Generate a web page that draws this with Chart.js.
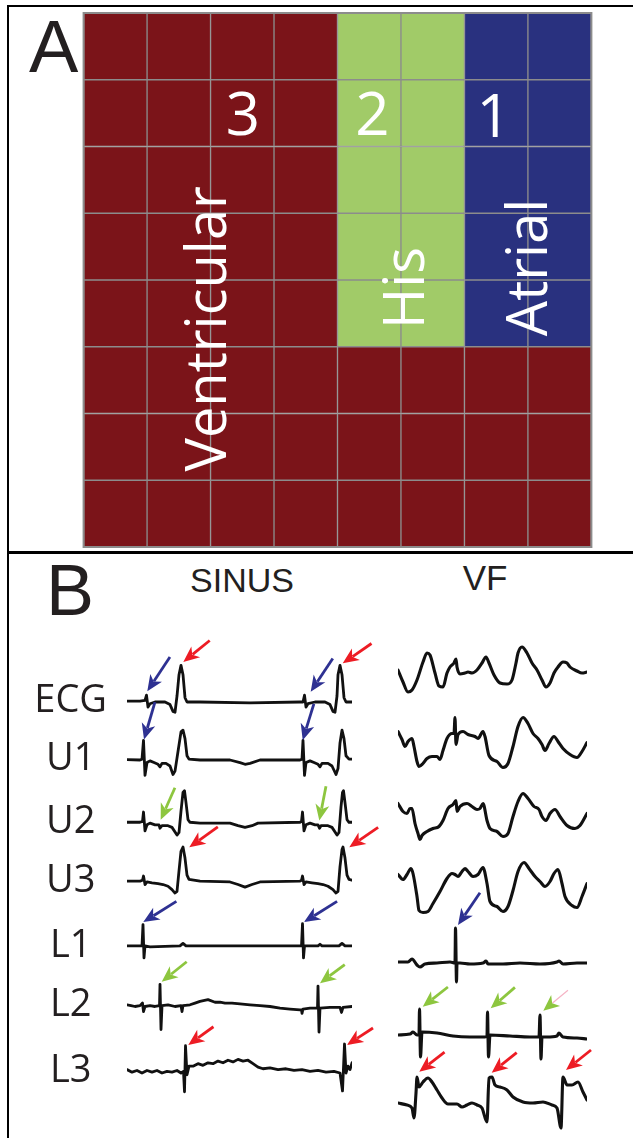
<!DOCTYPE html>
<html>
<head>
<meta charset="utf-8">
<script src="https://cdn.jsdelivr.net/npm/chart.js@4.4.1/dist/chart.umd.min.js"></script>
<style>
  body { margin: 0; background: #fff; }
  #page { position: relative; width: 633px; height: 1138px; overflow: hidden;
          font-family: "Liberation Sans", Arial, sans-serif; color: #231f20; }
  .frame { position: absolute; left: 7px; top: 5px; right: 0; bottom: 0;
           border-left: 2px solid #000; border-top: 2px solid #000; }
  .sep { position: absolute; left: 7px; right: 0; top: 551px; height: 3px; background: #000; }
  .txt { position: absolute; line-height: 1; white-space: nowrap; }
  canvas { position: absolute; }
</style>
</head>
<body>
<div id="page">
  <div class="frame"></div>
  <div class="sep"></div>
  <canvas id="gridChart" width="633" height="551" style="left:0;top:0"></canvas>
  <div class="txt" style="left:29px;top:10px;font-size:74px">A</div>

  <div class="txt" style="left:46px;top:554px;font-size:72px">B</div>
  <div class="txt" style="left:142px;width:200px;text-align:center;top:563px;font-size:34px">SINUS</div>
  <div class="txt" style="left:385px;width:200px;text-align:center;top:560px;font-size:35px">VF</div>
  <canvas id="sinusChart" width="371" height="582" style="left:9px;top:556px"></canvas>
  <canvas id="vfChart" width="253" height="582" style="left:380px;top:556px"></canvas>
</div>
<script>
/* ===== PANEL A: electrode grid ===== */
const gridColumns = ["1", "2", "3", "4", "5", "6", "7", "8"];
// one string per grid row, one letter per column: V = ventricular, H = His, A = atrial
const regionMap = [
  "VVVVHHAA",
  "VVVVHHAA",
  "VVVVHHAA",
  "VVVVHHAA",
  "VVVVHHAA",
  "VVVVVVVV",
  "VVVVVVVV",
  "VVVVVVVV"
];
const regionLabels = ["Ventricular", "His", "Atrial"];
const siteNumbers = ["3", "2", "1"];

/* ===== PANEL B: recordings, [time, amplitude] pairs ===== */
const leadNames = ["ECG", "U1", "U2", "U3", "L1", "L2", "L3"];

const sinusEcg = [[0,0],[13,0],[18,1],[19.5,7],[21,-7],[23,-3],[28,-1],[38,-1],[43,-4],[46,-12],[48,-13],[50,6],[52,31],[54,42],[56,31],[58,4],[60,-1],[73,-1],[123,-2],[173,-1],[176,-1],[177.5,7],[179,-7],[181,-3],[188,-1],[198,-1],[203,-4],[206,-12],[208,-13],[210,6],[211,31],[213,42],[215,31],[217,4],[219,-1],[225,-1]];
const sinusU1 = [[0,0],[13,-0.5],[15,0.5],[16.5,22.5],[18,-18.5],[20,-3.5],[23,-1.5],[27,-3.5],[31,-5.5],[33,-8.5],[35,-4.5],[39,-4.5],[43,-7.5],[46,-17.5],[48,-13.5],[51,9.5],[54,32.5],[56,34.5],[58,24.5],[60,4.5],[62,0.5],[73,-0.5],[103,-0.5],[113,-3.5],[118,-5.5],[123,-4.5],[133,-0.5],[173,-0.5],[175,0.5],[176,22.5],[177.5,-18.5],[179,-3.5],[183,-1.5],[187,-3.5],[191,-5.5],[193,-8.5],[195,-4.5],[201,-4.5],[205,-7.5],[209,-17.5],[211,-10.5],[213,19.5],[215,34.5],[217,24.5],[219,4.5],[222,0.5],[225,0.5]];
const sinusU2 = [[0,-0.5],[13,-0.5],[15.5,0.5],[16.5,11.5],[18,-10.5],[20,-3.5],[23,-1.5],[28,-3.5],[32,-3.5],[33,-7.5],[35,-4.5],[41,-4.5],[45,-6.5],[50,-15.5],[52,-12.5],[54,12.5],[56,34.5],[57.5,36.5],[59,22.5],[61,2.5],[63,-0.5],[73,-1.5],[103,-1.5],[111,-4.5],[118,-6.5],[125,-4.5],[131,-1.5],[173,-0.5],[174.5,0.5],[175.5,11.5],[177,-10.5],[179,-3.5],[183,-1.5],[188,-3.5],[191,-3.5],[192.5,-7.5],[194,-4.5],[201,-4.5],[205,-6.5],[210,-15.5],[212,-12.5],[214,17.5],[215.5,34.5],[216.5,36.5],[218,22.5],[220,2.5],[222,-0.5],[225,-0.5]];
const sinusU3 = [[0,-0.5],[13,-0.5],[15.5,0.5],[16.5,5.5],[18,-4.5],[20,-1.5],[25,-2.5],[31,-3.5],[36,-4.5],[41,-6.5],[45,-10.5],[48,-14.5],[50,-12.5],[52,11.5],[54,34.5],[56,39.5],[58,26.5],[60,6.5],[62,1.5],[73,-0.5],[103,-1.5],[111,-4.5],[118,-7.5],[125,-4.5],[133,-1.5],[173,-0.5],[174.5,0.5],[175.5,5.5],[177,-4.5],[179,-1.5],[185,-2.5],[191,-3.5],[196,-4.5],[201,-6.5],[206,-10.5],[209,-14.5],[211,-12.5],[213,16.5],[215,36.5],[216,39.5],[218,26.5],[220,6.5],[222,1.5],[225,0.5]];
const sinusL1 = [[0,0],[15,0],[16,25],[17,-14],[18,0],[23,-1],[53,0],[56,3],[59,0],[123,0],[173,0],[174.5,0],[175.5,26],[176.5,-14],[177.5,0],[191,0],[193,2],[195,0],[212,0],[215,3],[218,0],[225,0]];
const sinusL2 = [[0,1],[4,0],[8,-1],[13,0],[15.5,3],[16.5,-7],[18,-1],[23,0],[28,-1],[32.5,0],[33,25],[34,-28],[35,0],[41,1],[48,-1],[54,0],[55,-7],[56,0],[63,1],[68,3],[73,5],[81,7],[88,4],[93,4],[98,3],[105,3],[113,2],[123,1],[133,0],[143,-1],[153,-3],[163,-4],[173,-5],[174.5,-5],[175,-9],[176,-4],[183,-3],[190.5,-3],[191,23],[192,-31],[193,-3],[203,-2],[213,-2],[214.5,-8],[216,-2],[225,-1]];
const sinusL3 = [[0,2],[5,-1],[10,1],[15,-2],[20,1],[25,-1],[30,1],[35,-2],[40,0],[45,-1],[50,1],[54,-2],[56.5,0],[57.5,-24],[58.5,30],[60,-4],[62,6],[66,6],[71,9],[76,7],[81,10],[86,9],[91,12],[96,10],[101,13],[106,11],[111,14],[116,12],[121,13],[126,9],[131,5],[136,3],[143,4],[151,2],[159,3],[167,1],[175,2],[183,0],[191,1],[199,-1],[207,0],[213,-2],[215.5,-23],[217.5,32],[219,-2],[221,6],[223,2],[225,10]];

const vfEcg = [[0,6],[5,-6],[10,-16],[14,-14],[19,-4],[25,14],[29,23],[32,21],[37,3],[41,-10],[45,-11],[49,3],[52,9],[56,13],[58,17],[59,9],[62,2],[67,3],[70,4],[74,3],[79,6],[84,13],[88,19],[91,13],[96,1],[102,-7],[109,-8],[114,-4],[118,13],[120,23],[124,29],[129,23],[134,13],[139,6],[144,-4],[148,-11],[152,-7],[156,3],[160,9],[165,14],[169,13],[172,9],[179,5],[184,3],[189,4]];
const vfU1 = [[0,13],[4,5],[7,-2],[10,3],[14,6],[16,-2],[19,-17],[21,-22],[25,-19],[29,-14],[34,-12],[39,-12],[42,-15],[45,-6],[49,6],[54,11],[56,11],[57,27],[58,0],[60,10],[65,13],[70,10],[77,8],[80,6],[85,13],[87,8],[91,-11],[99,-17],[105,-23],[110,-19],[115,-2],[120,18],[125,27],[130,21],[135,11],[140,6],[144,0],[147,-6],[151,1],[156,8],[160,3],[165,-4],[172,-10],[179,-13],[184,-7],[189,2]];
const vfU2 = [[0,14],[5,6],[9,4],[12,9],[14,9],[17,-6],[20,-16],[22,-22],[24,-18],[29,-14],[35,-11],[41,-9],[45,-3],[50,9],[55,13],[58,17],[59,6],[62,11],[69,14],[74,11],[79,8],[82,9],[85,14],[89,-3],[92,-11],[99,-14],[105,-19],[110,-16],[115,1],[120,16],[125,24],[130,19],[136,11],[141,8],[144,1],[148,-3],[152,4],[157,8],[162,1],[169,-8],[177,-11],[182,-8],[189,4]];
const vfU3 = [[0,12],[5,7],[9,12],[13,18],[15,13],[19,-10],[21,-24],[25,-26],[30,-25],[35,-17],[42,-5],[49,8],[54,13],[57,12],[60,10],[64,15],[67,18],[70,15],[75,10],[80,12],[85,19],[89,3],[92,-15],[99,-20],[105,-25],[110,-20],[115,-4],[120,15],[126,24],[131,18],[137,10],[142,5],[147,0],[152,5],[156,13],[160,17],[164,3],[167,-10],[174,-19],[179,-21],[184,-10],[189,3]];
const vfL1 = [[0,1],[10,1],[14,4],[19,-2],[22,-4],[27,-1],[39,0],[52,1],[57,0],[57.5,35],[58.5,-19],[59,0],[62,0],[72,-1],[85,0],[88,2],[90,-1],[105,-1],[122,0],[142,-1],[159,1],[161,2],[165,-1],[179,0],[189,0]];
const vfL2 = [[0,-2],[12,-1],[15,1],[19,-2],[21,-2],[21.5,24],[22.5,-24],[24,1],[39,0],[55,-3],[72,-4],[87,-4],[89,-3],[89.5,21],[90.5,-24],[92,-2],[112,-3],[132,-4],[141,-4],[142,18],[143,-26],[144,-4],[149,-4],[159,-3],[161,0],[165,-4],[179,-5],[189,-6]];
const vfL3 = [[0,7],[9,5],[14,2],[16,-8],[18,17],[19,33],[21,23],[25,28],[30,32],[34,28],[39,20],[44,12],[50,6],[59,6],[64,3],[69,5],[74,7],[79,5],[84,2],[89,-12],[91,32],[94,33],[97,25],[102,23],[109,20],[115,13],[125,8],[135,7],[145,8],[154,5],[159,2],[163,-18],[165,33],[169,25],[174,25],[180,28],[185,18],[189,10]];

// arrows: [lead, time, amplitude at tip, colour, angle (deg), length]
const sinusArrows = [
  [0, 20.3, 11.7, "blue", -56.5, 41], [0, 183.7, 11, "blue", -56.5, 40],
  [0, 56.3, 46, "red", -39, 34], [0, 215.7, 44.3, "red", -34.6, 35],
  [1, 17, 23.5, "blue", -73.7, 39], [1, 175.7, 22.8, "blue", -72.9, 38],
  [2, 33.7, 2.5, "green", -66, 35], [2, 192.3, 1.5, "green", -79, 35],
  [3, 62.3, 39.2, "red", -35.4, 35], [3, 222.3, 39.2, "red", -34.6, 35],
  [4, 16.3, 28, "blue", -32, 39], [4, 177, 28, "blue", -32, 39],
  [5, 34.7, 28, "green", -38.7, 32], [5, 193, 26.3, "green", -37, 31],
  [6, 61.3, 31, "red", -35.8, 31], [6, 220, 31, "red", -33, 31]
];
const vfArrows = [
  [4, 60, 38, "blue", -55.7, 39],
  [5, 24.7, 26.3, "green", -38, 32], [5, 92.7, 24.7, "green", -40.8, 32], [5, 145.3, 22.3, "green", -39.6, 32, "#f5b3c4"],
  [6, 21.3, 38.3, "red", -37.9, 32], [6, 93.7, 37.3, "red", -38.7, 32], [6, 168, 40, "red", -38.7, 32]
];

/* ===== layout / style ===== */
const regionColor = { V: "#7b1419", H: "#a1cb68", A: "#29317f" };
const arrowColor = { red: "#ed1c24", blue: "#2e3192", green: "#8dc63f" };
const rowBase = [120, 188.5, 261.5, 330.5, 407, 477, 554]; // lead baselines, px below panel B top
// label anchors in grid cell units: rotated -> (baseline x, centre y), upright -> (centre x, baseline y)
const labelPos = [[2.24, 4.73], [5.36, 4.12], [7.30, 3.81]];
const numberPos = [[2.51, 1.83], [4.55, 1.83], [6.46, 1.86]];

/* ===== GRID CHART ===== */
const gridText = {
  id: "gridText",
  afterDatasetsDraw(chart) {
    const { ctx, chartArea: a, scales: { x, y } } = chart;
    ctx.save();
    ctx.strokeStyle = "#8c8c8c";
    ctx.lineWidth = 2;
    ctx.strokeRect(a.left, a.top, a.right - a.left, a.bottom - a.top);
    ctx.fillStyle = "#fff";
    ctx.textAlign = "center";
    ctx.textBaseline = "alphabetic";
    ctx.font = '56px "Open Sans"';
    regionLabels.forEach((t, i) => {
      ctx.save();
      ctx.translate(x.getPixelForValue(labelPos[i][0] - 0.5), y.getPixelForValue(labelPos[i][1]));
      ctx.rotate(-Math.PI / 2);
      ctx.fillText(t, 0, 0);
      ctx.restore();
    });
    ctx.font = '60px "Open Sans"';
    siteNumbers.forEach((t, i) => {
      ctx.fillText(t, x.getPixelForValue(numberPos[i][0] - 0.5), y.getPixelForValue(numberPos[i][1]));
    });
    ctx.restore();
  }
};

new Chart(document.getElementById("gridChart"), {
  type: "bar",
  data: {
    labels: gridColumns,
    datasets: regionMap.map((row, r) => ({
      label: "row " + (r + 1),
      data: gridColumns.map(() => [r, r + 1]),
      backgroundColor: row.split("").map(k => regionColor[k]),
      borderColor: "#8c8c8c",
      borderWidth: 1,
      borderSkipped: false,
      grouped: false,
      categoryPercentage: 1,
      barPercentage: 1
    }))
  },
  options: {
    responsive: false,
    animation: false,
    events: [],
    layout: { padding: { left: 83.6, right: 41.6, top: 13, bottom: 4 } },
    scales: {
      x: { display: false },
      y: { display: false, min: 0, max: 8, reverse: true }
    },
    plugins: { legend: { display: false }, tooltip: { enabled: false } }
  },
  plugins: [gridText]
});

/* ===== RECORDINGS ===== */
function arrowPlugin(list) {
  return {
    id: "arrows",
    afterDatasetsDraw(chart) {
      const { ctx, scales: { x, y } } = chart;
      ctx.save();
      list.forEach(([lead, t, amp, col, ang, len, shaft]) => {
        const px = x.getPixelForValue(t), py = y.getPixelForValue(rowBase[lead] - amp);
        const a = ang * Math.PI / 180, ux = Math.cos(a), uy = Math.sin(a);
        const head = 16, half = 7;
        ctx.strokeStyle = shaft || arrowColor[col];
        ctx.lineWidth = shaft ? 1.2 : 2.8;
        ctx.beginPath();
        ctx.moveTo(px + ux * (head - 4), py + uy * (head - 4));
        ctx.lineTo(px + ux * len, py + uy * len);
        ctx.stroke();
        ctx.fillStyle = arrowColor[col];
        ctx.beginPath();
        ctx.moveTo(px, py);
        ctx.lineTo(px + ux * head - uy * half, py + uy * head + ux * half);
        ctx.lineTo(px + ux * head * 0.72, py + uy * head * 0.72);
        ctx.lineTo(px + ux * head + uy * half, py + uy * head - ux * half);
        ctx.closePath();
        ctx.fill();
      });
      ctx.restore();
    }
  };
}

function leadSets(traces, smooth) {
  return traces.map((trace, i) => ({
    label: leadNames[i],
    data: trace.map(([t, v]) => ({ x: t, y: rowBase[i] - v })),
    borderColor: "#111",
    borderWidth: smooth ? 3.1 : 2.8,
    pointRadius: 0,
    borderJoinStyle: "round",
    borderCapStyle: "round",
    cubicInterpolationMode: smooth ? "monotone" : "default",
    tension: 0
  }));
}

const baseOptions = (xMax, padding, yAxis) => ({
  responsive: false,
  animation: false,
  events: [],
  layout: { padding },
  scales: {
    x: { type: "linear", display: false, min: 0, max: xMax },
    y: Object.assign({ min: 0, max: 582, reverse: true }, yAxis)
  },
  plugins: { legend: { display: false }, tooltip: { enabled: false } }
});

new Chart(document.getElementById("sinusChart"), {
  type: "line",
  data: { datasets: leadSets([sinusEcg, sinusU1, sinusU2, sinusU3, sinusL1, sinusL2, sinusL3], false) },
  options: baseOptions(225, { left: 0, right: 28, top: 0, bottom: 0 }, {
    afterFit: s => { s.width = 118; },
    afterBuildTicks: s => { s.ticks = rowBase.map(v => ({ value: v })); },
    grid: { display: false, drawTicks: false },
    border: { display: false },
    ticks: {
      autoSkip: false,
      crossAlign: "center",
      padding: 20,
      color: "#231f20",
      font: { family: '"Liberation Sans Narrow", "Open Sans", sans-serif', size: 38 },
      callback: (v, i) => leadNames[i]
    }
  }),
  plugins: [arrowPlugin(sinusArrows)]
});

new Chart(document.getElementById("vfChart"), {
  type: "line",
  data: { datasets: leadSets([vfEcg, vfU1, vfU2, vfU3, vfL1, vfL2, vfL3], true) },
  options: baseOptions(189, { left: 18, right: 46, top: 0, bottom: 0 }, { display: false }),
  plugins: [arrowPlugin(vfArrows)]
});
</script>
</body>
</html>
